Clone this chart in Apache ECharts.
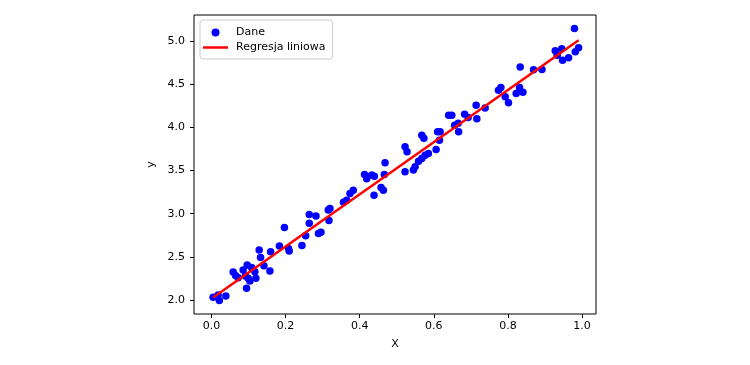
<!DOCTYPE html>
<html>
<head>
<meta charset="utf-8">
<script src="https://cdn.jsdelivr.net/npm/echarts@6/dist/echarts.min.js"></script>
<style>html,body{margin:0;padding:0;background:#fff}#c{width:750px;height:365px}</style>
</head>
<body>
<div id="c"></div>
<script>
const dataX = [0.0043,0.0178,0.0211,0.0386,0.0584,0.0649,0.0719,0.0854,0.0946,0.0962,0.0989,0.1081,0.1170,0.1197,0.1286,0.1324,0.1414,0.1576,0.1595,0.1832,0.1968,0.2076,0.2097,0.2441,0.2541,0.2638,0.2638,0.2819,0.2886,0.2954,0.3151,0.3197,0.3170,0.3562,0.3649,0.3738,0.3827,0.4130,0.4189,0.4324,0.4395,0.4386,0.4576,0.4638,0.4665,0.4684,0.5224,0.5278,0.5224,0.5449,0.5495,0.5676,0.5732,0.5676,0.5765,0.5854,0.6062,0.6103,0.6170,0.6151,0.6400,0.6486,0.6562,0.6657,0.6670,0.6832,0.6927,0.7143,0.7162,0.7386,0.7746,0.7811,0.7927,0.8016,0.8224,0.8314,0.8405,0.8332,0.8692,0.8919,0.9278,0.9454,0.9476,0.9638,0.9797,0.9819,0.9908,0.0914,0.1035,0.5589,0.9332];
const dataY = [2.031,2.058,1.994,2.046,2.324,2.284,2.258,2.347,2.135,2.405,2.251,2.378,2.328,2.251,2.579,2.492,2.397,2.336,2.559,2.625,2.839,2.598,2.567,2.633,2.744,2.990,2.888,2.972,2.772,2.784,3.042,3.059,2.920,3.134,3.157,3.235,3.273,3.455,3.406,3.447,3.435,3.215,3.304,3.273,3.455,3.589,3.777,3.719,3.485,3.505,3.543,3.910,3.875,3.640,3.678,3.698,3.744,3.948,3.948,3.852,4.141,4.141,4.025,4.049,3.948,4.153,4.115,4.257,4.101,4.226,4.431,4.462,4.355,4.284,4.392,4.462,4.407,4.700,4.668,4.670,4.888,4.911,4.778,4.807,5.146,4.876,4.922,2.278,2.220,3.609,4.836];
const lineX = [0.0043, 0.9908];
const lineY = [2.03, 5.01];
const xTicks = [0.0, 0.2, 0.4, 0.6, 0.8, 1.0];
const yTicks = [2.0, 2.5, 3.0, 3.5, 4.0, 4.5, 5.0];
const seriesNames = ['Dane', 'Regresja liniowa'];
const axisNames = ['X', 'y'];

const font = 'DejaVu Sans';
const chart = echarts.init(document.getElementById('c'), null, {renderer: 'canvas'});
chart.setOption({
  animation: false,
  backgroundColor: '#fff',
  grid: {left: 194, right: 154, top: 15, bottom: 51, show: true, borderColor: '#000', borderWidth: 1, backgroundColor: 'transparent'},
  legend: {
    orient: 'vertical', left: 200, top: 20,
    padding: [6, 7, 5, 3], itemGap: 2, itemWidth: 25, itemHeight: 8,
    borderColor: '#cccccc', borderWidth: 1, borderRadius: 3, backgroundColor: 'rgba(255,255,255,0.8)',
    textStyle: {fontFamily: font, fontSize: 11, color: '#000', padding: [0, 0, 0, 3], lineHeight: 13},
    data: [
      {name: seriesNames[0], icon: 'circle'},
      {name: seriesNames[1], icon: 'path://M0,0H25V2.5H0Z', itemStyle: {color: '#ff0000'}}
    ]
  },
  xAxis: {
    type: 'value', min: -0.0473, max: 1.0378,
    name: axisNames[0], nameLocation: 'middle', nameGap: 25,
    nameTextStyle: {fontFamily: font, fontSize: 11, color: '#000'},
    axisLine: {show: false, onZero: false},
    splitLine: {show: false},
    axisTick: {show: true, inside: false, length: 4, lineStyle: {color: '#000'}, customValues: xTicks},
    axisLabel: {fontFamily: font, fontSize: 11, color: '#000', margin: 7, customValues: xTicks, formatter: v => v.toFixed(1)}
  },
  yAxis: {
    type: 'value', min: 1.838, max: 5.302,
    name: axisNames[1], nameLocation: 'middle', nameGap: 28,
    nameTextStyle: {fontFamily: font, fontSize: 11, color: '#000'},
    axisLine: {show: false, onZero: false},
    splitLine: {show: false},
    axisTick: {show: true, inside: false, length: 4, lineStyle: {color: '#000'}, customValues: yTicks},
    axisLabel: {fontFamily: font, fontSize: 11, color: '#000', margin: 9, customValues: yTicks, formatter: v => v.toFixed(1)}
  },
  series: [
    {
      name: seriesNames[0], type: 'scatter', symbol: 'circle', symbolSize: 7.5,
      itemStyle: {color: '#0000ff', opacity: 1},
      data: dataX.map((x, i) => [x, dataY[i]])
    },
    {
      name: seriesNames[1], type: 'line', symbol: 'none', showSymbol: false,
      lineStyle: {color: '#ff0000', width: 2.5}, itemStyle: {color: '#ff0000'},
      data: lineX.map((x, i) => [x, lineY[i]])
    }
  ]
});
</script>
</body>
</html>
